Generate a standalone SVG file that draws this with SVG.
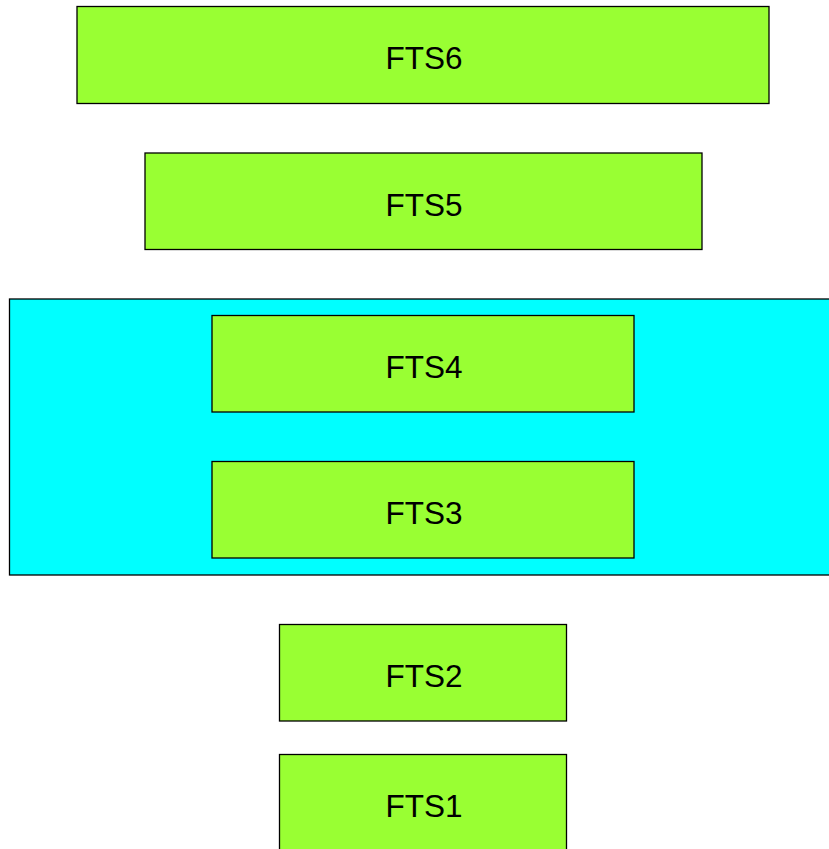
<svg xmlns="http://www.w3.org/2000/svg" width="829" height="849" viewBox="0 0 829 849">
<style>
.n{fill:#99ff33;stroke:#000;stroke-width:1.3}
.c{fill:#00ffff;stroke:#000;stroke-width:1.3}
.t{font-family:"Liberation Sans",Arial,sans-serif;font-size:31.5px;text-anchor:middle;fill:#000}
</style>
<rect width="829" height="849" fill="#fff"/>
<g id="cluster"><rect class="c" x="9.5" y="299" width="830" height="276"/></g>
<g id="FTS6"><rect class="n" x="77" y="6.5" width="692" height="97"/><text class="t" x="424" y="69">FTS6</text></g>
<g id="FTS5"><rect class="n" x="145" y="153" width="557" height="96.5"/><text class="t" x="424" y="215.5">FTS5</text></g>
<g id="FTS4"><rect class="n" x="212" y="315.5" width="422" height="96.5"/><text class="t" x="424" y="378">FTS4</text></g>
<g id="FTS3"><rect class="n" x="212" y="461.5" width="422" height="96.5"/><text class="t" x="424" y="524">FTS3</text></g>
<g id="FTS2"><rect class="n" x="279.5" y="624.5" width="287" height="96.5"/><text class="t" x="424" y="687">FTS2</text></g>
<g id="FTS1"><rect class="n" x="279.5" y="754.5" width="287" height="110"/><text class="t" x="424" y="817">FTS1</text></g>
<g id="connectors"></g>
</svg>
